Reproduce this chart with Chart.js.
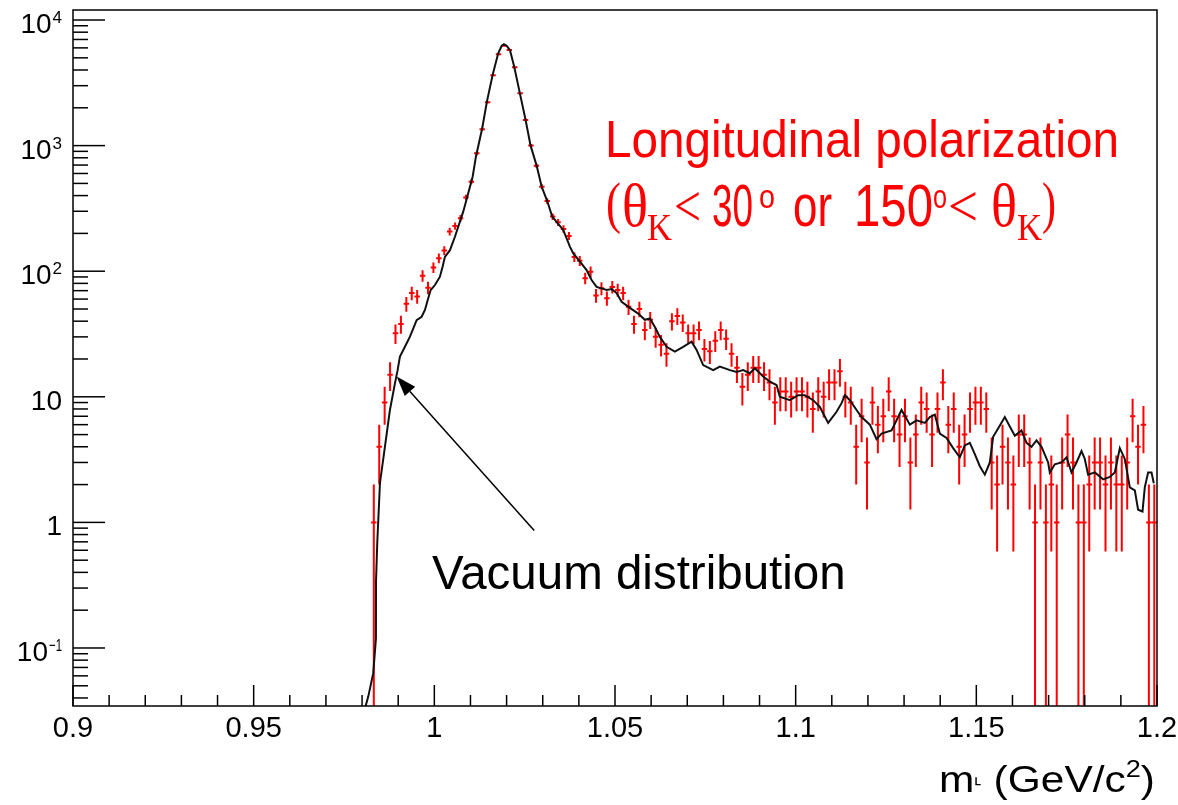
<!DOCTYPE html>
<html><head><meta charset="utf-8">
<script src="https://cdn.jsdelivr.net/npm/chart.js@4.4.1/dist/chart.umd.min.js"></script>
<style>html,body{margin:0;padding:0;background:#fff;} #wrap{width:1178px;height:805px;position:relative;}</style>
</head><body><div id="wrap"><canvas id="c" width="1178" height="805"></canvas></div>
<script>
// ---- histogram binning (data, 200 bins from 0.9 to 1.2) ----
const binLow = 0.9;
const binWidth = 0.0015;
const firstBin = 55;
// counts per bin, starting at bin index 55
const dataCounts = [
  1, 4, 9, 15, 32, 38, 55, 67, 63, 92,
  74, 107, 127, 146, 207, 229, 264, 387, 516, 868,
  1349, 2212, 3630, 5330, 6250, 5770, 4200, 2607, 1600, 1000,
  692, 471, 362, 272, 245, 217, 191, 130, 121, 88,
  99, 64, 73, 61, 75, 71, 67, 52, 38, 50,
  34, 41, 30, 26, 22, 40, 44, 39, 32, 32,
  34, 24, 23, 28, 34, 29, 22, 17, 12, 15,
  17, 17, 15, 13, 9, 11, 11, 10, 11, 11,
  10, 8, 11, 10, 13, 13, 16, 10, 9, 4,
  7, 3, 9, 6, 7, 11, 7, 5, 7, 3,
  5, 9, 8, 5, 8, 13, 6, 8, 4, 5,
  8, 9, 9, 8, 3, 2, 4, 3, 2, 5,
  5, 3, 1, 3, 1, 2, 1, 3, 5, 3,
  1, 1, 2, 3, 3, 2, 3, 2, 2, 3,
  7, 4, 6, 1, 1
];
// vacuum distribution curve
const vacuumMass = [
  0.98080,0.98171,0.98309,0.98384,0.98386,0.98420,0.98495,0.98633,0.98771,0.98910,
  0.98984,0.99048,0.99186,0.99325,0.99435,0.99510,0.99648,0.99740,0.99831,0.99898,
  1.00017,1.00155,1.00230,1.00293,1.00432,1.00570,1.00661,1.00800,1.00938,1.01060,
  1.01151,1.01325,1.01455,1.01613,1.01768,1.01862,1.01926,1.02000,1.02092,1.02211,
  1.02368,1.02526,1.02664,1.02831,1.02969,1.03124,1.03262,1.03428,1.03567,1.03752,
  1.03843,1.04029,1.04214,1.04352,1.04491,1.04629,1.04768,1.04906,1.05044,1.05183,
  1.05412,1.05642,1.05827,1.05966,1.06104,1.06242,1.06428,1.06657,1.06887,1.07119,
  1.07258,1.07440,1.07717,1.07902,1.08179,1.08365,1.08547,1.08733,1.08871,1.09100,
  1.09286,1.09471,1.09562,1.09839,1.10069,1.10254,1.10484,1.10669,1.10899,1.11132,
  1.11270,1.11361,1.11500,1.11685,1.11823,1.12053,1.12238,1.12377,1.12653,1.12792,
  1.12930,1.13068,1.13160,1.13345,1.13575,1.13713,1.13852,1.13990,1.14175,1.14358,
  1.14543,1.14682,1.14820,1.14958,1.15097,1.15235,1.15374,1.15465,1.15603,1.15788,
  1.15927,1.16065,1.16250,1.16389,1.16527,1.16666,1.16804,1.16987,1.17033,1.17172,
  1.17357,1.17496,1.17634,1.17772,1.17911,1.18002,1.18093,1.18279,1.18509,1.18694,
  1.18832,1.18971,1.19109,1.19247,1.19386,1.19477,1.19599,1.19662,1.19754,1.19848,
  1.19911
];
const vacuumValue = [
  0.033,0.041,0.063,0.119,0.337,0.682,2.05,4.01,7.85,12.8,
  16.3,20.9,25.0,30.1,36.1,40.8,43.4,49.1,60.8,70.8,
  77.6,90.4,109,130,147,188,226,298,417,565,
  816,1374,2239,3648,5433,6209,6412,6240,5768,4247,
  2607,1600,999,693,472,362,272,238,213,157,
  139,119,102,85,75,73,71,72,67,57,
  51,46,41,42,36,30,25,22.9,25,27.5,
  23.6,17.9,16.3,17.4,16.3,15.8,16.3,15.4,16.9,14.5,
  13.2,12.4,10.0,9.4,10.3,10.3,9.4,8.3,6.2,7.6,
  8.9,10.3,9.4,7.85,6.9,6.0,4.6,5.1,5.4,6.5,
  7.85,6.7,6.0,6.5,6.2,6.9,7.2,5.1,4.7,3.9,
  3.3,4.1,4.3,3.5,2.8,2.4,3.0,4.8,5.6,6.9,
  5.8,4.9,5.4,4.3,4.0,4.5,4.0,3.0,2.5,2.9,
  3.0,3.3,2.5,3.0,3.7,3.2,2.4,2.5,2.2,2.3,
  2.5,3.9,3.2,1.9,1.8,1.26,1.22,1.9,2.5,2.5,
  2.05
];
// axis tick labels
const xMajorTicks = [0.9, 0.95, 1.0, 1.05, 1.1, 1.15, 1.2];
const xTickLabels = ['0.9', '0.95', '1', '1.05', '1.1', '1.15', '1.2'];
const yMajorTicks = [0.1, 1, 10, 100, 1000, 10000];
const yTickBase = ['10', '1', '10', '10', '10', '10'];
const yTickExp = ['\u22121', '', '', '2', '3', '4'];
const xMin = 0.9, xMax = 1.2, yMin = 0.03452, yMax = 12015;
const xMinorStep = 0.01;

const histPoints = dataCounts.map((n, i) => ({x: binLow + binWidth * (firstBin + i + 0.5), y: n}));
const vacuumPoints = vacuumMass.map((m, i) => ({x: m, y: vacuumValue[i]}));

const SANS = '"Liberation Sans", Arial, "DejaVu Sans", sans-serif';
const NARROW = '"Liberation Sans Narrow", "Liberation Sans", Arial, sans-serif';
const SERIF = '"Liberation Serif", "Times New Roman", "DejaVu Serif", serif';

const errPlugin = {
  id: 'errbars',
  beforeDatasetsDraw(chart) {
    const ctx = chart.ctx, a = chart.chartArea, xs = chart.scales.x, ys = chart.scales.y;
    ctx.save();
    ctx.beginPath(); ctx.rect(a.left, a.top, a.right - a.left, a.bottom - a.top); ctx.clip();
    ctx.strokeStyle = '#ff0000'; ctx.lineWidth = 2;
    histPoints.forEach(p => {
      const px = xs.getPixelForValue(p.x), py = ys.getPixelForValue(p.y);
      const x0 = xs.getPixelForValue(p.x - binWidth / 2), x1 = xs.getPixelForValue(p.x + binWidth / 2);
      const e = Math.sqrt(p.y);
      const yt = ys.getPixelForValue(p.y + e);
      const yb = (p.y - e > 0) ? ys.getPixelForValue(p.y - e) : a.bottom + 2;
      ctx.beginPath();
      ctx.moveTo(x0, py); ctx.lineTo(x1, py);
      ctx.moveTo(px, yt); ctx.lineTo(px, yb);
      ctx.stroke();
    });
    ctx.restore();
  }
};

function txt(ctx, s, x, y, font, color, maxW, align) {
  ctx.font = font; ctx.fillStyle = color; ctx.textAlign = align || 'left'; ctx.textBaseline = 'alphabetic';
  if (maxW) ctx.fillText(s, x, y, maxW); else ctx.fillText(s, x, y);
}

const axesPlugin = {
  id: 'rootAxes',
  afterDraw(chart) {
    const ctx = chart.ctx, a = chart.chartArea, xs = chart.scales.x, ys = chart.scales.y;
    ctx.save();
    // frame
    ctx.strokeStyle = '#000'; ctx.lineWidth = 1.5;
    ctx.strokeRect(a.left, a.top, a.right - a.left, a.bottom - a.top);
    // x ticks
    const nX = Math.round((xMax - xMin) / xMinorStep);
    for (let k = 0; k <= nX; k++) {
      const v = xMin + k * xMinorStep;
      const px = xs.getPixelForValue(v);
      const len = (k % 5 === 0) ? 21 : 11;
      ctx.beginPath(); ctx.moveTo(px, a.bottom); ctx.lineTo(px, a.bottom - len); ctx.stroke();
    }
    // y ticks
    for (let d = -2; d <= 4; d++) {
      for (let j = 1; j <= 9; j++) {
        const v = j * Math.pow(10, d);
        if (v < yMin || v > yMax) continue;
        const py = ys.getPixelForValue(v);
        const len = (j === 1) ? 32 : 15;
        ctx.beginPath(); ctx.moveTo(a.left, py); ctx.lineTo(a.left + len, py); ctx.stroke();
      }
    }
    // x labels
    xMajorTicks.forEach((v, i) => {
      txt(ctx, xTickLabels[i], xs.getPixelForValue(v), a.bottom + 31, '29px ' + SANS, '#000', 0, 'center');
    });
    // y labels
    yMajorTicks.forEach((v, i) => {
      const py = ys.getPixelForValue(v);
      const right = a.left - 11;
      if (yTickExp[i]) {
        ctx.font = '17px ' + SANS;
        const w = Math.min(ctx.measureText(yTickExp[i]).width, 13);
        txt(ctx, yTickExp[i], right - w, py + 3, '17px ' + SANS, '#000', 13, 'left');
        txt(ctx, yTickBase[i], right - w - 1, py + 13, '28px ' + SANS, '#000', 0, 'right');
      } else {
        txt(ctx, yTickBase[i], right, py + 13, '28px ' + SANS, '#000', 0, 'right');
      }
    });
    // x axis title: m (GeV/c^2), right aligned, slightly widened
    {
      const f = '36px ' + SANS, fs = '23px ' + SANS, fg = '19px ' + SANS;
      const parts = [['m', f, 0], ['\u02EA', fg, -7], [' (GeV/c', f, 0], ['2', fs, -15], [')', f, 0]];
      const sx = 1.18;
      let total = 0;
      parts.forEach(p => { ctx.font = p[1]; total += ctx.measureText(p[0]).width; });
      ctx.save();
      ctx.translate(a.right - 2 - total * sx, 792);
      ctx.scale(sx, 1);
      let x = 0;
      parts.forEach(p => { txt(ctx, p[0], x, p[2], p[1], '#000', 0, 'left'); ctx.font = p[1]; x += ctx.measureText(p[0]).width; });
      ctx.restore();
    }
    // arrow annotation (data coordinates)
    {
      const tx = xs.getPixelForValue(1.02764), ty = ys.getPixelForValue(0.86);
      const hx = xs.getPixelForValue(0.98957), hy = ys.getPixelForValue(14.5);
      const ang = Math.atan2(hy - ty, hx - tx), L = 20, W = 7;
      const bx = hx - L * Math.cos(ang), by = hy - L * Math.sin(ang);
      ctx.strokeStyle = '#000'; ctx.lineWidth = 1.5;
      ctx.beginPath(); ctx.moveTo(tx, ty); ctx.lineTo(bx, by); ctx.stroke();
      ctx.fillStyle = '#000';
      ctx.beginPath(); ctx.moveTo(hx, hy);
      ctx.lineTo(bx + W * Math.sin(ang), by - W * Math.cos(ang));
      ctx.lineTo(bx - W * Math.sin(ang), by + W * Math.cos(ang));
      ctx.closePath(); ctx.fill();
    }
    txt(ctx, 'Vacuum distribution', 432, 589, '47.5px ' + SANS, '#000', 0, 'left');
    // red annotation
    const red = '#ff0000';
    txt(ctx, 'Longitudinal polarization', 605, 157, '52px ' + SANS, red, 514, 'left');
    const runs = [
      ['(', '58px ' + SERIF, 606, 15, 222],
      ['\u03B8', '62px ' + SERIF, 622, 26, 226],
      ['K', '38px ' + SERIF, 647, 25, 240],
      ['<', '60px ' + SERIF, 674, 27, 226],
      ['30', '60px ' + NARROW, 712, 41, 226],
      ['o', '34px ' + NARROW, 759, 16, 208],
      ['or', '60px ' + NARROW, 793, 39, 226],
      ['150', '60px ' + NARROW, 854, 79, 226],
      ['o', '34px ' + NARROW, 933, 14, 208],
      ['<', '60px ' + SERIF, 948, 30, 226],
      ['\u03B8', '62px ' + SERIF, 991, 26, 226],
      ['K', '38px ' + SERIF, 1017, 25, 240],
      [')', '58px ' + SERIF, 1042, 14, 222]
    ];
    runs.forEach(r => txt(ctx, r[0], r[2], r[4], r[1], red, r[3], 'left'));
    ctx.restore();
  }
};

new Chart(document.getElementById('c'), {
  type: 'line',
  data: {
    datasets: [
      {type: 'line', label: 'Vacuum distribution', data: vacuumPoints, borderColor: '#111', borderWidth: 2,
       pointRadius: 0, tension: 0, fill: false, order: 1},
      {type: 'scatter', label: 'Longitudinal polarization', data: histPoints, pointRadius: 0,
       showLine: false, borderColor: '#ff0000', backgroundColor: '#ff0000', order: 2}
    ]
  },
  options: {
    responsive: false, animation: false,
    layout: {padding: {left: 73, right: 21, top: 10, bottom: 99}},
    scales: {
      x: {type: 'linear', min: xMin, max: xMax, display: false},
      y: {type: 'logarithmic', min: yMin, max: yMax, display: false}
    },
    plugins: {legend: {display: false}, tooltip: {enabled: false}}
  },
  plugins: [errPlugin, axesPlugin]
});
</script>
</body></html>
